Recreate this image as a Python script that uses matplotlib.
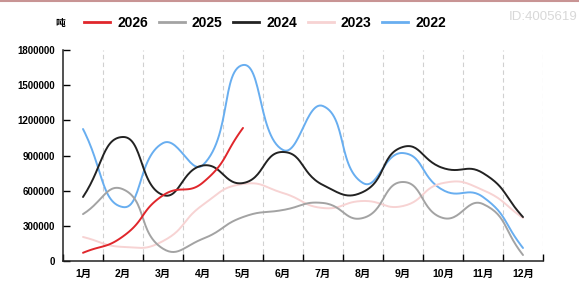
import numpy as np
import matplotlib
matplotlib.use("Agg")
import matplotlib.pyplot as plt
from matplotlib.lines import Line2D

plt.rcParams['font.family'] = ['Liberation Sans', 'Noto Sans CJK SC', 'DejaVu Sans']

months = ["1月", "2月", "3月", "4月", "5月", "6月", "7月", "8月", "9月", "10月", "11月", "12月"]

s2026 = [70000, 210000, 560000, 670000, 1135000]
s2025 = [400000, 612000, 105000, 190000, 375000, 435000, 495000, 367000, 674000, 367000, 486000, 51000]
s2024 = [546000, 1058000, 563000, 815000, 665000, 930000, 648000, 589000, 973000, 793000, 750000, 375000]
s2023 = [205000, 120000, 170000, 480000, 657000, 580000, 452000, 512000, 469000, 665000, 605000, 367000]
s2022 = [1126000, 460000, 1006000, 819000, 1672000, 947000, 1322000, 665000, 921000, 605000, 546000, 111000]

series = [("2026", s2026, "#e0262b"),
          ("2025", s2025, "#a3a3a3"),
          ("2024", s2024, "#222222"),
          ("2023", s2023, "#f7d3d3"),
          ("2022", s2022, "#68aef0")]

YMAX = 1800000
# pixel scale used for the smoothing distances (40 px per month, 211 px for full y range)
SX, SY = 40.0, 211.0 / YMAX


def smooth_path(xs, ys, smooth=0.5, n=30):
    """echarts-like bezier smoothing"""
    px = np.array(xs) * SX
    py = np.array(ys) * SY
    m = len(px)
    cps = []
    for i in range(m):
        prev = i - 1 if i > 0 else i
        nxt = i + 1 if i < m - 1 else i
        vx, vy = px[nxt] - px[prev], py[nxt] - py[prev]
        d0 = np.hypot(px[i] - px[prev], py[i] - py[prev])
        d1 = np.hypot(px[nxt] - px[i], py[nxt] - py[i])
        tot = d0 + d1
        if tot > 0:
            d0, d1 = d0 / tot, d1 / tot
        cps.append(((px[i] - vx * smooth * d0, py[i] - vy * smooth * d0),
                    (px[i] + vx * smooth * d1, py[i] + vy * smooth * d1)))
    outx, outy = [px[0]], [py[0]]
    t = np.linspace(0, 1, n)[1:]
    for i in range(m - 1):
        p0 = (px[i], py[i])
        c1 = cps[i][1]
        c2 = cps[i + 1][0]
        p3 = (px[i + 1], py[i + 1])
        bx = (1 - t) ** 3 * p0[0] + 3 * (1 - t) ** 2 * t * c1[0] + 3 * (1 - t) * t ** 2 * c2[0] + t ** 3 * p3[0]
        by = (1 - t) ** 3 * p0[1] + 3 * (1 - t) ** 2 * t * c1[1] + 3 * (1 - t) * t ** 2 * c2[1] + t ** 3 * p3[1]
        outx.extend(bx)
        outy.extend(by)
    return np.array(outx) / SX, np.array(outy) / SY


fig = plt.figure(figsize=(5.79, 2.84), dpi=100)
ax = fig.add_axes([63 / 579, 1 - 261 / 284, 480 / 579, 211 / 284])

for name, vals, col in series[::-1]:
    xs = np.arange(len(vals)) + 0.5
    sx, sy = smooth_path(xs, vals)
    ax.plot(sx, sy, color=col, lw=1.4, solid_capstyle="round")

ax.set_xlim(0, 12)
ax.set_ylim(0, YMAX)
ax.set_xticks(np.arange(13))
ax.set_xticklabels([])
ax.set_xticks(np.arange(12) + 0.5, minor=True)
ax.set_xticklabels(months, minor=True, fontsize=7.5, fontweight="bold")
ax.tick_params(axis="x", which="minor", length=0, pad=6)
ax.tick_params(axis="x", which="major", direction="in", length=5, width=1)
yt = np.arange(0, YMAX + 1, 300000)
ax.set_yticks(yt)
ax.set_yticklabels([str(v) for v in yt], fontsize=7, fontweight="bold")
ax.tick_params(axis="y", direction="in", length=5, width=1, pad=6)
for x in range(1, 13):
    ax.axvline(x, color="#d0d0d0", lw=0.8, ls=(0, (4, 3)), zorder=0)
for side in ["top", "right"]:
    ax.spines[side].set_visible(False)
for side in ["left", "bottom"]:
    ax.spines[side].set_linewidth(1.1)
    ax.spines[side].set_color("#222222")

fig.text(60 / 579, 1 - 23 / 284, "吨", fontsize=7, fontweight="bold", ha="center", va="center")

handles = [Line2D([], [], color=c, lw=2) for _, _, c in series]
fig.legend(handles, [n for n, _, _ in series], ncol=5, loc="center",
           bbox_to_anchor=(265 / 579, 1 - 23 / 284), frameon=False,
           prop={"size": 10, "weight": "bold"}, handlelength=1.9,
           handletextpad=0.5, columnspacing=0.75, borderpad=0, borderaxespad=0)

fig.text(577 / 579, 1 - 17 / 284, "ID:4005619", fontsize=9.5, color="#d8d8d8", ha="right", va="center")
fig.add_artist(Line2D([0, 1], [0.997, 0.997], color="#c89494", lw=1.5))

fig.savefig("out.png", dpi=100)
